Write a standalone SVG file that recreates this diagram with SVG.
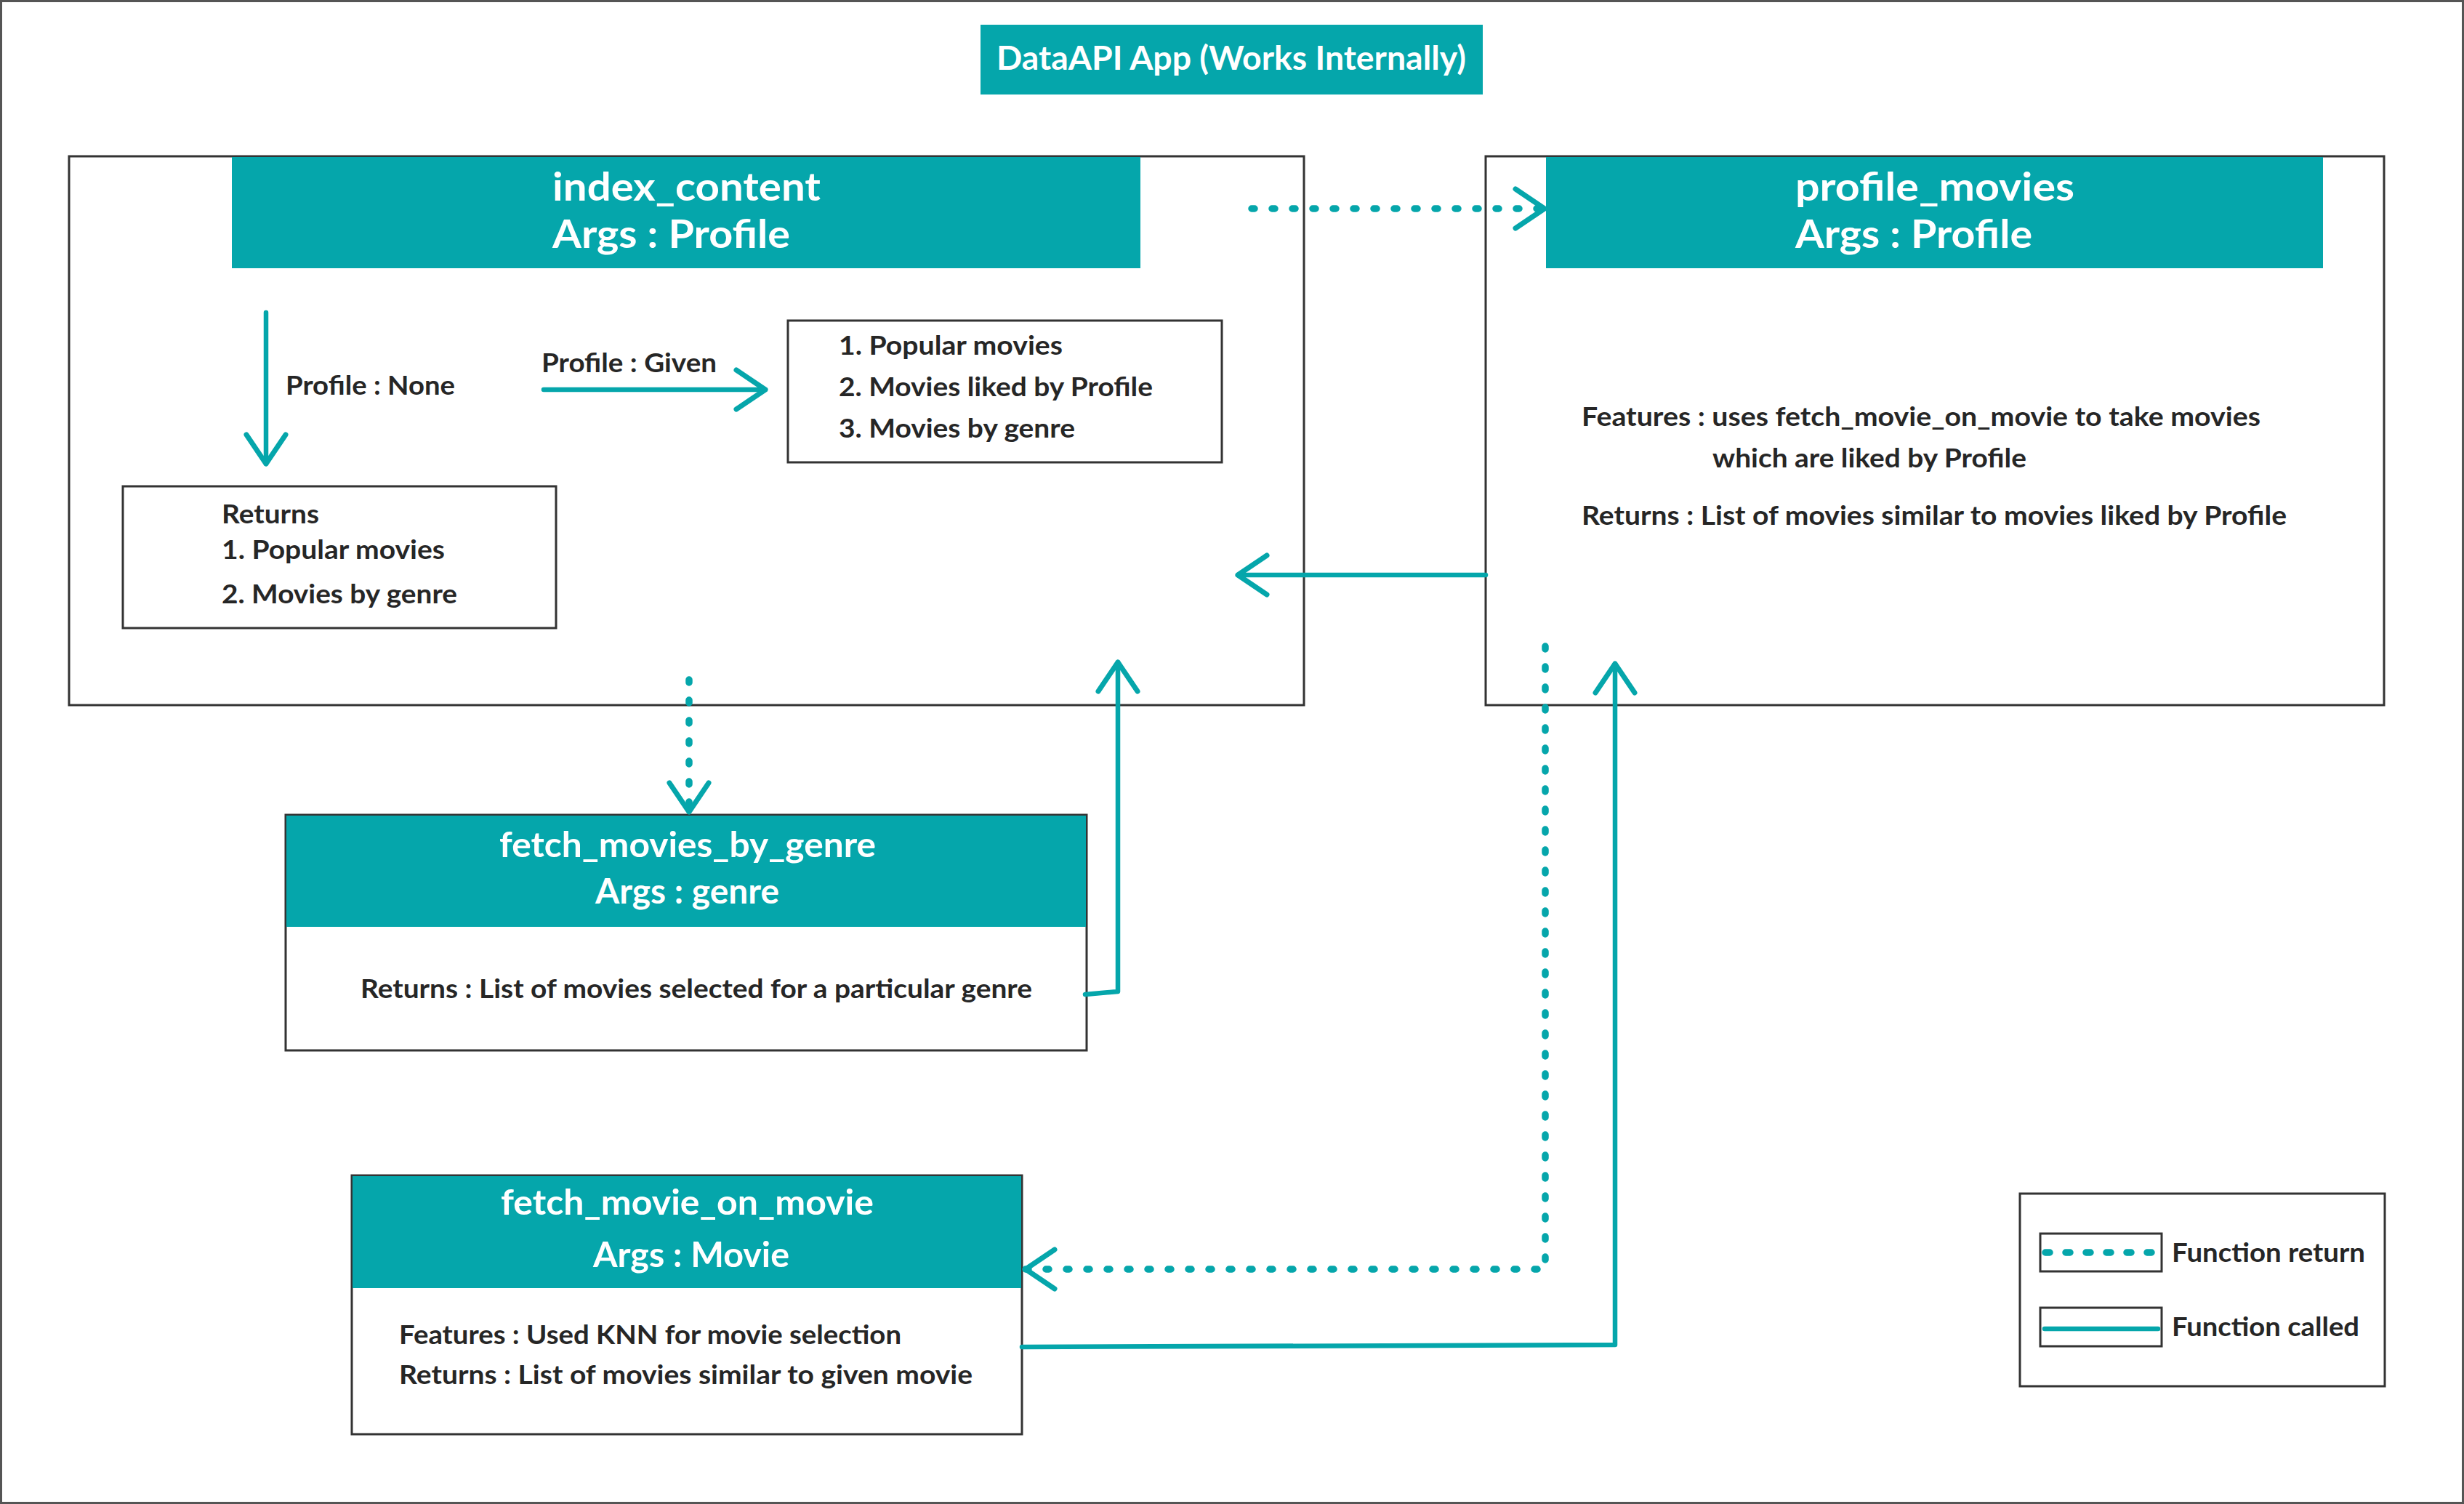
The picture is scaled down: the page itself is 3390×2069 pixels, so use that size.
<svg xmlns="http://www.w3.org/2000/svg" width="3390" height="2069" viewBox="0 0 3390 2069">
<style>
.bg{fill:#ffffff}
.frame{fill:none;stroke:#555555;stroke-width:3}
.box{fill:#ffffff;stroke:#333333;stroke-width:3}
.hdr{fill:#05A6AB}
.t{font-family:Lato,"Liberation Sans",sans-serif;font-weight:bold;fill:#262626;font-size:37px}
.w{font-family:Lato,"Liberation Sans",sans-serif;font-weight:bold;fill:#ffffff}
.big{font-size:54px}
.mid{font-size:48px}
.ttl{font-size:46px}
.solid{fill:none;stroke:#05A6AB;stroke-width:6.5;stroke-linecap:round;stroke-linejoin:round}
.dot{fill:none;stroke:#05A6AB;stroke-width:9.5;stroke-linecap:round;stroke-dasharray:4 24}
</style>
<defs>
<marker id="chev" markerUnits="userSpaceOnUse" viewBox="-50 -35 60 70" refX="0" refY="0" markerWidth="60" markerHeight="70" orient="auto" overflow="visible">
<path d="M-40,-27 L0,0 L-40,27" fill="none" stroke="#05A6AB" stroke-width="7" stroke-linecap="round" stroke-linejoin="round"/>
</marker>
</defs>
<rect class="bg" x="0" y="0" width="3390" height="2069"/>
<rect class="frame" x="1.5" y="1.5" width="3387" height="2066"/>

<g id="title">
<rect class="hdr" x="1349" y="34" width="691" height="96"/>
<text class="w ttl" x="1371" y="96" textLength="646" lengthAdjust="spacingAndGlyphs">DataAPI App (Works Internally)</text>
</g>

<g id="index_content">
<rect class="box" x="95" y="215" width="1699" height="755"/>
<rect class="hdr" x="319" y="216" width="1250" height="153"/>
<text class="w big" x="760" y="276" textLength="369" lengthAdjust="spacingAndGlyphs">index_content</text>
<text class="w big" x="760" y="341" textLength="327" lengthAdjust="spacingAndGlyphs">Args : Profile</text>
<text class="t" x="393" y="543" textLength="233" lengthAdjust="spacingAndGlyphs">Profile : None</text>
<text class="t" x="745" y="512" textLength="241" lengthAdjust="spacingAndGlyphs">Profile : Given</text>
</g>

<g id="given_list">
<rect class="box" x="1084" y="441" width="597" height="195"/>
<text class="t" x="1154" y="488" textLength="308" lengthAdjust="spacingAndGlyphs">1. Popular movies</text>
<text class="t" x="1154" y="545" textLength="432" lengthAdjust="spacingAndGlyphs">2. Movies liked by Profile</text>
<text class="t" x="1154" y="602" textLength="325" lengthAdjust="spacingAndGlyphs">3. Movies by genre</text>
</g>

<g id="none_list">
<rect class="box" x="169" y="669" width="596" height="195"/>
<text class="t" x="305" y="720" textLength="134" lengthAdjust="spacingAndGlyphs">Returns</text>
<text class="t" x="305" y="769" textLength="307" lengthAdjust="spacingAndGlyphs">1. Popular movies</text>
<text class="t" x="305" y="830" textLength="324" lengthAdjust="spacingAndGlyphs">2. Movies by genre</text>
</g>

<g id="profile_movies">
<rect class="box" x="2044" y="215" width="1236" height="755"/>
<rect class="hdr" x="2127" y="216" width="1069" height="153"/>
<text class="w big" x="2470" y="276" textLength="384" lengthAdjust="spacingAndGlyphs">profile_movies</text>
<text class="w big" x="2470" y="341" textLength="326" lengthAdjust="spacingAndGlyphs">Args : Profile</text>
<text class="t" x="2176" y="586" textLength="934" lengthAdjust="spacingAndGlyphs">Features : uses fetch_movie_on_movie to take movies</text>
<text class="t" x="2356" y="643" textLength="432" lengthAdjust="spacingAndGlyphs">which are liked by Profile</text>
<text class="t" x="2176" y="722" textLength="970" lengthAdjust="spacingAndGlyphs">Returns : List of movies similar to movies liked by Profile</text>
</g>

<g id="fetch_movies_by_genre">
<rect class="box" x="393" y="1121" width="1102" height="324"/>
<rect class="hdr" x="394" y="1122" width="1100" height="153"/>
<text class="w mid" x="687" y="1179" textLength="518" lengthAdjust="spacingAndGlyphs">fetch_movies_by_genre</text>
<text class="w mid" x="819" y="1243" textLength="253" lengthAdjust="spacingAndGlyphs">Args : genre</text>
<text class="t" x="496" y="1373" textLength="924" lengthAdjust="spacingAndGlyphs">Returns : List of movies selected for a particular genre</text>
</g>

<g id="fetch_movie_on_movie">
<rect class="box" x="484" y="1617" width="922" height="356"/>
<rect class="hdr" x="485" y="1618" width="920" height="154"/>
<text class="w mid" x="689" y="1671" textLength="513" lengthAdjust="spacingAndGlyphs">fetch_movie_on_movie</text>
<text class="w mid" x="816" y="1743" textLength="270" lengthAdjust="spacingAndGlyphs">Args : Movie</text>
<text class="t" x="549" y="1849" textLength="691" lengthAdjust="spacingAndGlyphs">Features : Used KNN for movie selection</text>
<text class="t" x="549" y="1904" textLength="789" lengthAdjust="spacingAndGlyphs">Returns : List of movies similar to given movie</text>
</g>

<g id="legend">
<rect class="box" x="2779" y="1642" width="502" height="265"/>
<rect class="box" x="2807" y="1697" width="167" height="52"/>
<path class="dot" d="M2814,1723 L2962,1723" style="stroke-dasharray:6 22"/>
<text class="t" x="2988" y="1736" textLength="266" lengthAdjust="spacingAndGlyphs">Function return</text>
<rect class="box" x="2807" y="1799" width="167" height="53"/>
<path class="solid" d="M2813,1828 L2969,1828"/>
<text class="t" x="2988" y="1838" textLength="258" lengthAdjust="spacingAndGlyphs">Function called</text>
</g>

<g id="connectors">
<path class="dot" d="M1722,287 L2125,287" marker-end="url(#chev)"/>
<path class="solid" d="M2044,791 L1703,791" marker-end="url(#chev)"/>
<path class="dot" d="M948,935 L948,1117" marker-end="url(#chev)"/>
<path class="solid" d="M1493,1368 L1538,1364 L1538,911" marker-end="url(#chev)"/>
<path class="dot" d="M2126,889 L2126,1746 L1411,1746" marker-end="url(#chev)"/>
<path class="solid" d="M1406,1853 L2222,1850 L2222,913" marker-end="url(#chev)"/>
<path class="solid" d="M366,430 L366,638" marker-end="url(#chev)"/>
<path class="solid" d="M748,536 L1053,536" marker-end="url(#chev)"/>
</g>
</svg>
